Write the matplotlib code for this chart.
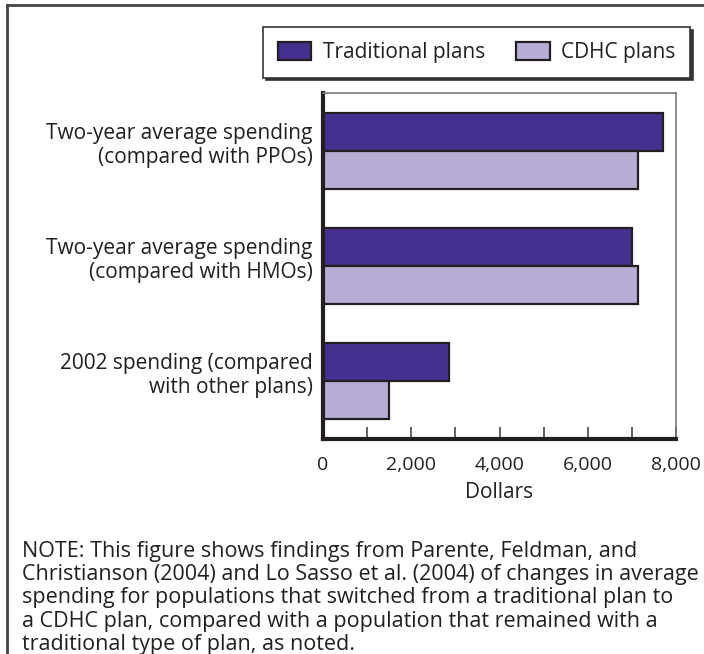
import numpy as np
import matplotlib
matplotlib.use("Agg")
import matplotlib.pyplot as plt
from matplotlib.lines import Line2D
from matplotlib.ticker import FuncFormatter, MultipleLocator

plt.rcParams['font.family'] = ['Open Sans', 'DejaVu Sans']

# data
categories = ["Two-year average spending\n(compared with PPOs)",
              "Two-year average spending\n(compared with HMOs)",
              "2002 spending (compared\nwith other plans)"]
traditional = [7700, 7000, 2850]
cdhc = [7150, 7150, 1500]
series_names = ["Traditional plans", "CDHC plans"]
note = ("NOTE: This figure shows findings from Parente, Feldman, and\n"
        "Christianson (2004) and Lo Sasso et al. (2004) of changes in average\n"
        "spending for populations that switched from a traditional plan to\n"
        "a CDHC plan, compared with a population that remained with a\n"
        "traditional type of plan, as noted.")

dark = "#46308f"
light = "#b7add4"
txt = "#231f20"
fs = 15

W, H = 704, 654
fig = plt.figure(figsize=(W / 100, H / 100), dpi=100)

# axes box in pixels: x 323..676, y 93..439
ax = fig.add_axes([323 / W, 1 - 439 / H, (676 - 323) / W, (439 - 93) / H])

y = np.arange(len(categories))
h = 1 / 3
b1 = ax.barh(y - h / 2, traditional, height=h, color=dark, edgecolor=txt, linewidth=1.6)
b2 = ax.barh(y + h / 2, cdhc, height=h, color=light, edgecolor=txt, linewidth=1.6)

ax.set_xlim(0, 8000)
ax.set_ylim(2.506, -0.506)
ax.set_yticks([])
ax.xaxis.set_major_locator(MultipleLocator(1000))
ax.xaxis.set_major_formatter(FuncFormatter(lambda v, p: f"{int(v):,}" if v % 2000 == 0 else ""))
ax.tick_params(axis='x', direction='in', length=9, width=1.3, color="#555555",
               labelsize=14, labelcolor=txt, pad=12)
ax.set_xlabel("Dollars", fontsize=fs, color=txt, labelpad=6)

for s in ['left', 'bottom']:
    ax.spines[s].set_linewidth(3)
    ax.spines[s].set_color(txt)
for s in ['top', 'right']:
    ax.spines[s].set_linewidth(1.2)
    ax.spines[s].set_color("#777777")

# category labels, right aligned left of the axis
for yi, lab in zip(y, categories):
    ax.text(-230, yi - 0.05, lab, ha='right', va='center', fontsize=fs,
            color=txt, linespacing=1.2)

leg = fig.legend([b1, b2], series_names, loc='upper right',
                 bbox_to_anchor=(690 / W, 1 - 27 / H), ncol=2, fontsize=fs,
                 frameon=True, fancybox=False, shadow={'color': '#333333', 'alpha': 1},
                 handlelength=1.6, handleheight=1.0, handletextpad=0.55,
                 columnspacing=1.5, borderpad=0.7, borderaxespad=0)
leg.get_frame().set_edgecolor("#333333")
leg.get_frame().set_linewidth(1.2)
for t in leg.get_texts():
    t.set_color(txt)

fig.text(22 / W, 1 - 541 / H, note, ha='left', va='top', fontsize=15.5,
         color=txt, linespacing=1.14)

# outer frame: left and top edges
fig.add_artist(Line2D([7 / W, 7 / W], [0, 1 - 5 / H], transform=fig.transFigure,
                      color="#444444", linewidth=2))
fig.add_artist(Line2D([7 / W, 1], [1 - 5 / H, 1 - 5 / H], transform=fig.transFigure,
                      color="#444444", linewidth=2))

fig.savefig("out.png", dpi=100)
